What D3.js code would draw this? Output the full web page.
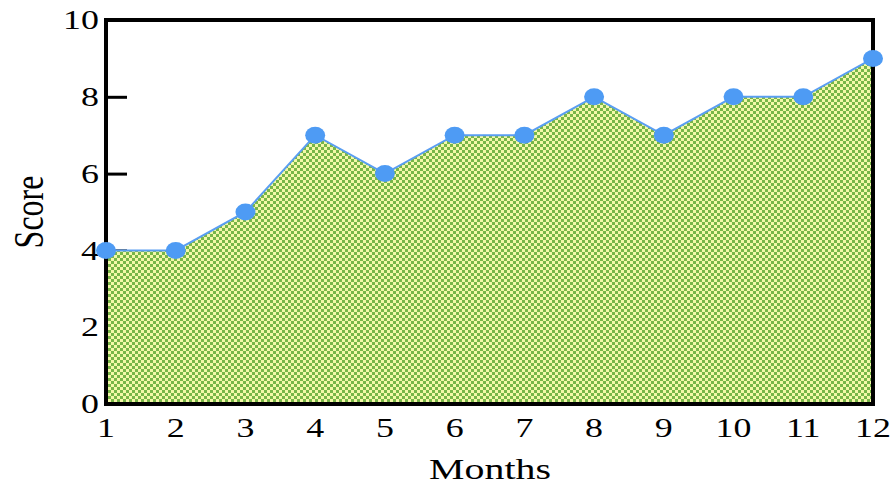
<!DOCTYPE html>
<html>
<head>
<meta charset="utf-8">
<script src="https://cdn.jsdelivr.net/npm/d3@7/dist/d3.min.js"></script>
<style>
  html, body { margin: 0; padding: 0; background: #fff; }
  svg { display: block; }
  text { font-family: "Liberation Serif", "DejaVu Serif", serif; fill: #000; }
</style>
</head>
<body>
<svg id="chart" width="895" height="487"></svg>
<script>
// Monthly scores
const months = [1, 2, 3, 4, 5, 6, 7, 8, 9, 10, 11, 12];
const scores = [4, 4, 5, 7, 6, 7, 7, 8, 7, 8, 8, 9];
const yTicks = [0, 2, 4, 6, 8, 10];
const xTicks = months;

(function draw() {
  const svg = d3.select("#chart");
  const plotLeft = 106, plotRight = 873, plotTop = 20, plotBottom = 404;
  const stretch = 1.33; // wide glyph shape used for all text

  const x = d3.scaleLinear().domain([1, 12]).range([plotLeft, plotRight]);
  const y = d3.scaleLinear().domain([0, 10]).range([plotBottom, plotTop]);

  // Checkerboard fill
  const defs = svg.append("defs");
  const pat = defs.append("pattern")
    .attr("id", "checker")
    .attr("patternUnits", "userSpaceOnUse")
    .attr("width", 6).attr("height", 6);
  pat.append("rect").attr("width", 6).attr("height", 6).attr("fill", "#f4f8a8");
  pat.append("rect").attr("x", 0).attr("y", 0).attr("width", 3).attr("height", 3).attr("fill", "#78b648");
  pat.append("rect").attr("x", 3).attr("y", 3).attr("width", 3).attr("height", 3).attr("fill", "#78b648");

  // Y axis with inward ticks
  const yAxis = svg.append("g")
    .attr("transform", `translate(${plotLeft},0)`)
    .call(d3.axisRight(y).tickValues(yTicks).tickSize(21).tickFormat(""));
  yAxis.select(".domain").remove();
  yAxis.selectAll(".tick line").attr("stroke", "#000").attr("stroke-width", 3);

  svg.append("g").selectAll("text.ylab")
    .data(yTicks).join("text")
    .attr("class", "ylab")
    .attr("transform", d => `translate(${plotLeft - 7},${y(d)}) scale(${stretch},1)`)
    .attr("dy", "0.34em")
    .attr("text-anchor", "end")
    .attr("font-size", 27)
    .text(d => d);

  svg.append("g").selectAll("text.xlab")
    .data(xTicks).join("text")
    .attr("class", "xlab")
    .attr("transform", d => `translate(${x(d)},437) scale(${stretch},1)`)
    .attr("text-anchor", "middle")
    .attr("font-size", 27)
    .text(d => d);

  const pts = months.map((m, i) => [m, scores[i]]);

  // Filled area
  svg.append("path")
    .datum(pts)
    .attr("fill", "url(#checker)")
    .attr("d", d3.area().x(d => x(d[0])).y0(y(0)).y1(d => y(d[1])));

  // Frame
  svg.append("rect")
    .attr("x", plotLeft).attr("y", plotTop)
    .attr("width", plotRight - plotLeft).attr("height", plotBottom - plotTop)
    .attr("fill", "none").attr("stroke", "#000").attr("stroke-width", 4);

  // Line and markers
  svg.append("path")
    .datum(pts)
    .attr("fill", "none")
    .attr("stroke", "#5a9ef2")
    .attr("stroke-width", 2)
    .attr("d", d3.line().x(d => x(d[0])).y(d => y(d[1])));

  svg.append("g").selectAll("ellipse")
    .data(pts).join("ellipse")
    .attr("cx", d => x(d[0]))
    .attr("cy", d => y(d[1]))
    .attr("rx", 10)
    .attr("ry", 8.5)
    .attr("fill", "#4e9bf4");

  // Axis titles
  svg.append("text")
    .attr("transform", `translate(490,479) scale(${stretch},1)`)
    .attr("text-anchor", "middle")
    .attr("font-size", 30)
    .text("Months");

  svg.append("text")
    .attr("transform", `translate(43,212) scale(${stretch},1) rotate(-90)`)
    .attr("text-anchor", "middle")
    .attr("font-size", 32)
    .text("Score");
})();
</script>
</body>
</html>
